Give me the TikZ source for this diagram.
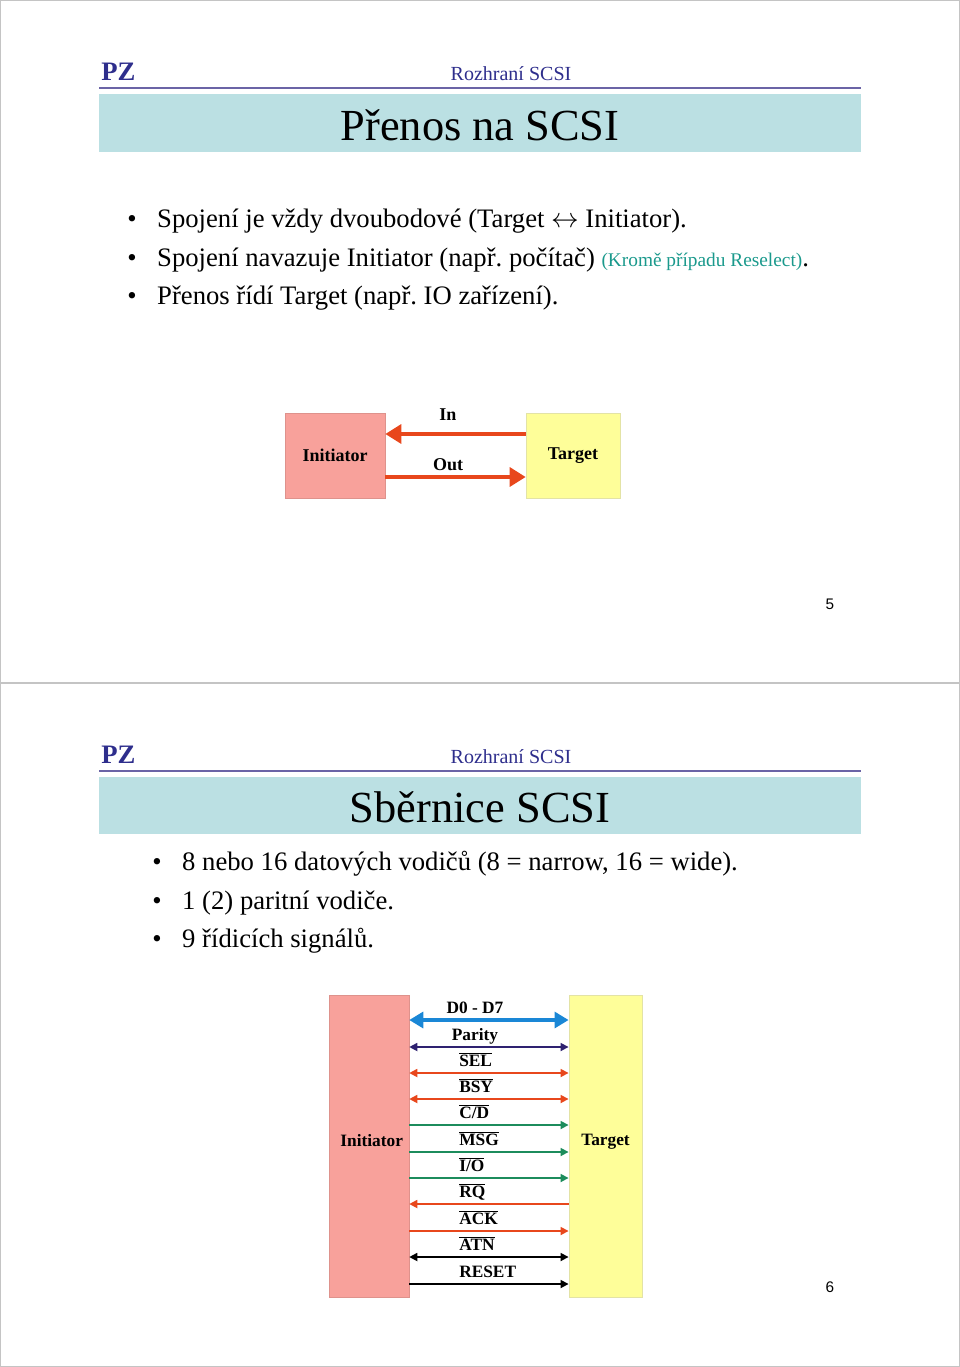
\documentclass[tikz,border=0pt]{standalone}
\usepackage{fontspec}
\setmainfont{Liberation Serif}
\newfontfamily\numfont{Liberation Sans}
\usepackage{xcolor}
\usepackage{tikz}
\usetikzlibrary{arrows.meta,positioning}
\frenchspacing
\definecolor{framegray}{HTML}{C4C4C4}
\definecolor{barcyan}{HTML}{BBE0E3}
\definecolor{rulepurple}{HTML}{6B64A6}
\definecolor{headnavy}{HTML}{2E2E8C}
\definecolor{tealtxt}{HTML}{1A998C}
\definecolor{initfill}{HTML}{F8A19B}
\definecolor{initline}{HTML}{DE928C}
\definecolor{tgtfill}{HTML}{FEFE99}
\definecolor{tgtline}{HTML}{E3E3A6}
\definecolor{sigred}{HTML}{E8471C}
\definecolor{siggreen}{HTML}{1C8C5C}
\definecolor{sigblue}{HTML}{1A87D6}
\definecolor{signavy}{HTML}{2E2170}
\newcommand\sigbar[1]{$\overline{\mbox{#1}}$}

\begin{document}
\begin{tikzpicture}[x=0.75pt,y=-0.75pt,
  frame/.style={draw=framegray,line width=1pt},
  hrule/.style={draw=rulepurple,line width=1.4pt},
  pz/.style={anchor=base west,inner sep=0pt,text=headnavy,font=\fontsize{20}{24}\selectfont\bfseries},
  head/.style={anchor=base,inner sep=0pt,text=headnavy,font=\fontsize{15}{18}\selectfont},
  title/.style={anchor=base,inner sep=0pt,font=\fontsize{33.3}{40}\selectfont},
  bul/.style={anchor=base west,inner sep=0pt,font=\fontsize{20}{24}\selectfont},
  pnum/.style={anchor=base,inner sep=0pt,font=\fontsize{11.5}{14}\numfont},
  init/.style={rectangle,draw=initline,fill=initfill,inner sep=0pt,font=\fontsize{13.5}{16}\selectfont\bfseries},
  tgt/.style={rectangle,draw=tgtline,fill=tgtfill,inner sep=0pt,font=\fontsize{13.5}{16}\selectfont\bfseries},
  lbl/.style={inner sep=0pt,font=\fontsize{13}{15}\selectfont\bfseries},
  bigarr/.style={draw=sigred,line width=3.2pt,-{Triangle[length=12pt,width=14pt]}},
  sig/.style={line width=1.3pt},
  tipboth/.style={{Triangle[length=6pt,width=6pt]}-{Triangle[length=6pt,width=6pt]}},
  tipfwd/.style={-{Triangle[length=6pt,width=6pt]}},
  tipbwd/.style={{Triangle[length=6pt,width=6pt]}-}
]
\useasboundingbox (0,0) rectangle (960,1367);
\draw[frame] (0.5,0.5) rectangle (959.5,1366.5);
\draw[frame] (0,683) -- (960,683);

% slide 5
\node[pz] (pz1) at (101,80) {PZ};
\node[head] (head1) at (511,80) {Rozhraní SCSI};
\draw[hrule] (99,88) -- (861,88);
\fill[barcyan] (99,94) rectangle (861,152);
\node[title] (title1) at (480,140) {Přenos na SCSI};
\node[bul] (b11) at (127,227) {\makebox[22.5pt][l]{•}Spojení je vždy dvoubodové (Target $\leftrightarrow$ Initiator).};
\node[bul] (b12) at (127,266) {\makebox[22.5pt][l]{•}Spojení navazuje Initiator (např. počítač) {\color{tealtxt}\fontsize{14.5}{17}\selectfont(Kromě případu Reselect)}.};
\node[bul] (b13) at (127,304) {\makebox[22.5pt][l]{•}Přenos řídí Target (např. IO zařízení).};

\node[init,minimum width=75pt,minimum height=64pt] (init1) at (335,455.5) {\raisebox{-3pt}{Initiator}};
\node[tgt,minimum width=70.5pt,minimum height=64pt] (tgt1) at (573,455.5) {\raisebox{-3pt}{Target}};
\draw[bigarr] (tgt1.west |- 0,434) -- (init1.east |- 0,434);
\draw[bigarr] (init1.east |- 0,477) -- (tgt1.west |- 0,477);
\node[lbl,anchor=base,font=\fontsize{13.5}{16}\selectfont\bfseries] (in) at (448,420) {In};
\node[lbl,anchor=base,font=\fontsize{13.5}{16}\selectfont\bfseries] (out) at (448,470) {Out};
\node[pnum] (pg5) at (830,609) {5};

% slide 6
\node[pz] (pz2) at (101,763) {PZ};
\node[head] (head2) at (511,763) {Rozhraní SCSI};
\draw[hrule] (99,771) -- (861,771);
\fill[barcyan] (99,777) rectangle (861,834);
\node[title] (title2) at (480,822) {Sběrnice SCSI};
\node[bul] (b21) at (152,870) {\makebox[22.5pt][l]{•}8 nebo 16 datových vodičů (8 = narrow, 16 = wide).};
\node[bul] (b22) at (152,909) {\makebox[22.5pt][l]{•}1 (2) paritní vodiče.};
\node[bul] (b23) at (152,947) {\makebox[22.5pt][l]{•}9 řídicích signálů.};

\node[init,minimum width=60pt,minimum height=226.5pt,font=\fontsize{13}{15}\selectfont\bfseries] (init2) at (369,1146) {\raisebox{9pt}{\hspace{4pt}Initiator}};
\node[tgt,minimum width=55pt,minimum height=226.5pt,font=\fontsize{13}{15}\selectfont\bfseries] (tgt2) at (605.5,1146) {\raisebox{9pt}{Target}};
\draw[draw=sigblue,line width=2.4pt,{Triangle[length=10.5pt,width=12pt]}-{Triangle[length=10.5pt,width=12pt]}]
  (init2.east |- 0,1020) -- (tgt2.west |- 0,1020);
\node[lbl,anchor=base] (d0) at (475,1013) {D0 - D7};
\draw[sig,draw=signavy,tipboth] (init2.east |- 0,1047) -- (tgt2.west |- 0,1047);
\node[lbl,anchor=base] (parity) at (475,1040) {Parity};
\foreach \y/\col/\tip/\txt [count=\i] in {
  1073/sigred/tipboth/{\sigbar{SEL}},
  1099/sigred/tipboth/{\sigbar{BSY}},
  1125/siggreen/tipfwd/{\sigbar{C/D}},
  1152/siggreen/tipfwd/{\sigbar{MSG}},
  1178/siggreen/tipfwd/{\sigbar{I/O}},
  1204/sigred/tipbwd/{\sigbar{RQ}},
  1231/sigred/tipfwd/{\sigbar{ACK}},
  1257/black/tipboth/{\sigbar{ATN}},
  1284/black/tipfwd/{RESET}} {
  \draw[sig,draw=\col,\tip] (init2.east |- 0,\y) -- (tgt2.west |- 0,\y);
  \node[lbl,anchor=base west] (ctl\i) at (459,\y-6.5) {\txt};
}
\node[pnum] (pg6) at (830,1292) {6};
\end{tikzpicture}
\end{document}
